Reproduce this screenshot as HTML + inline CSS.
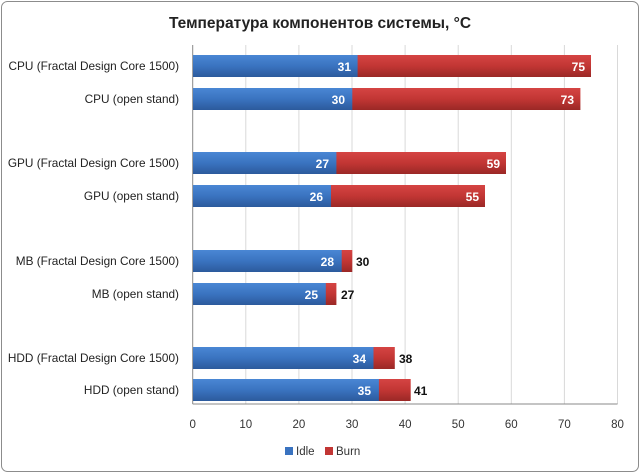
<!DOCTYPE html>
<html><head><meta charset="utf-8"><style>
html,body{margin:0;padding:0;background:#fff;}
svg{display:block;font-family:"Liberation Sans","DejaVu Sans",sans-serif;}
</style></head><body>
<svg width="641" height="474" viewBox="0 0 641 474" xmlns="http://www.w3.org/2000/svg">
<defs>
<linearGradient id="b" x1="0" y1="0" x2="0" y2="1"><stop offset="0" stop-color="#4a87d4"/><stop offset="0.5" stop-color="#3a73c0"/><stop offset="1" stop-color="#2c5a9c"/></linearGradient>
<linearGradient id="r" x1="0" y1="0" x2="0" y2="1"><stop offset="0" stop-color="#d54443"/><stop offset="0.5" stop-color="#c23634"/><stop offset="1" stop-color="#9a2826"/></linearGradient>
</defs>
<rect x="1.5" y="1.5" width="637" height="470" rx="6" fill="#fff" stroke="#8c8c8c"/>
<text x="320" y="28" text-anchor="middle" font-size="15.5" font-weight="bold" fill="#222">Температура компонентов системы, °C</text>
<g stroke="#d9d9d9">
<line x1="245.8" y1="45" x2="245.8" y2="404"/><line x1="298.9" y1="45" x2="298.9" y2="404"/><line x1="352" y1="45" x2="352" y2="404"/><line x1="405.1" y1="45" x2="405.1" y2="404"/><line x1="458.2" y1="45" x2="458.2" y2="404"/><line x1="511.3" y1="45" x2="511.3" y2="404"/><line x1="564.4" y1="45" x2="564.4" y2="404"/><line x1="617.5" y1="45" x2="617.5" y2="404"/>
</g>
<line x1="192.7" y1="45" x2="192.7" y2="404" stroke="#888"/>
<line x1="192.7" y1="404" x2="617.5" y2="404" stroke="#888"/>
<g font-size="11.5" fill="#333" text-anchor="middle">
<text x="192.7" y="428">0</text><text x="245.8" y="428">10</text><text x="298.9" y="428">20</text><text x="352" y="428">30</text><text x="405.1" y="428">40</text><text x="458.2" y="428">50</text><text x="511.3" y="428">60</text><text x="564.4" y="428">70</text><text x="617.5" y="428">80</text>
</g>
<g font-size="11.8" fill="#222" text-anchor="end">
<text x="179" y="70">CPU (Fractal Design Core 1500)</text>
<text x="179" y="103">CPU (open stand)</text>
<text x="179" y="167">GPU (Fractal Design Core 1500)</text>
<text x="179" y="200">GPU (open stand)</text>
<text x="179" y="265">MB (Fractal Design Core 1500)</text>
<text x="179" y="298">MB (open stand)</text>
<text x="179" y="362">HDD (Fractal Design Core 1500)</text>
<text x="179" y="394">HDD (open stand)</text>
</g>
<g font-size="12" font-weight="bold">
<rect x="193" y="55" width="398" height="22" fill="url(#r)"/><rect x="193" y="55" width="164.6" height="22" fill="url(#b)"/>
<text x="351" y="71" fill="#fff" text-anchor="end">31</text><text x="585" y="71" fill="#fff" text-anchor="end">75</text>
<rect x="193" y="88" width="387.4" height="22" fill="url(#r)"/><rect x="193" y="88" width="159.3" height="22" fill="url(#b)"/>
<text x="345" y="104" fill="#fff" text-anchor="end">30</text><text x="574" y="104" fill="#fff" text-anchor="end">73</text>
<rect x="193" y="152" width="313" height="22" fill="url(#r)"/><rect x="193" y="152" width="143.4" height="22" fill="url(#b)"/>
<text x="329" y="168" fill="#fff" text-anchor="end">27</text><text x="500" y="168" fill="#fff" text-anchor="end">59</text>
<rect x="193" y="185" width="292" height="22" fill="url(#r)"/><rect x="193" y="185" width="138" height="22" fill="url(#b)"/>
<text x="323" y="201" fill="#fff" text-anchor="end">26</text><text x="479" y="201" fill="#fff" text-anchor="end">55</text>
<rect x="193" y="250" width="159.3" height="22" fill="url(#r)"/><rect x="193" y="250" width="148.7" height="22" fill="url(#b)"/>
<text x="334" y="266" fill="#fff" text-anchor="end">28</text><text x="356" y="266" fill="#111">30</text>
<rect x="193" y="283" width="143.4" height="22" fill="url(#r)"/><rect x="193" y="283" width="132.8" height="22" fill="url(#b)"/>
<text x="318" y="299" fill="#fff" text-anchor="end">25</text><text x="341" y="299" fill="#111">27</text>
<rect x="193" y="347" width="201.8" height="22" fill="url(#r)"/><rect x="193" y="347" width="180.5" height="22" fill="url(#b)"/>
<text x="366" y="363" fill="#fff" text-anchor="end">34</text><text x="399" y="363" fill="#111">38</text>
<rect x="193" y="379" width="217.7" height="22" fill="url(#r)"/><rect x="193" y="379" width="185.9" height="22" fill="url(#b)"/>
<text x="371" y="395" fill="#fff" text-anchor="end">35</text><text x="414" y="395" fill="#111">41</text>
</g>
<rect x="285" y="447" width="8" height="8" fill="#3a73c0"/>
<text x="296" y="455" font-size="11.5" fill="#333">Idle</text>
<rect x="325" y="447" width="8" height="8" fill="#c23634"/>
<text x="336" y="455" font-size="11.5" fill="#333">Burn</text>
</svg>
</body></html>
